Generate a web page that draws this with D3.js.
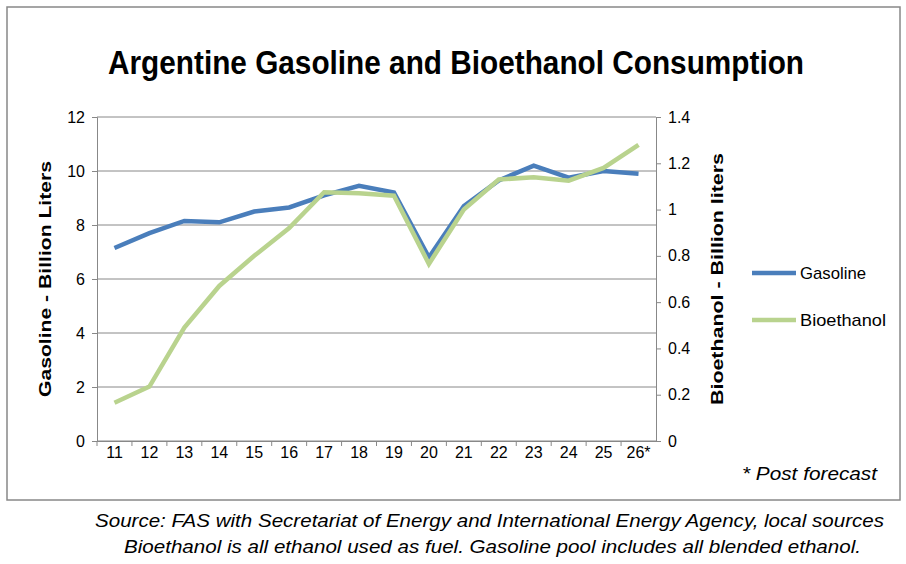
<!DOCTYPE html>
<html><head><meta charset="utf-8">
<script src="https://cdn.jsdelivr.net/npm/d3@7"></script>
<style>body{margin:0;background:#fff}</style></head>
<body><svg id="c" width="906" height="564"></svg>
<script>
const years = ["11","12","13","14","15","16","17","18","19","20","21","22","23","24","25","26*"];
const gasoline = [7.15,7.7,8.15,8.1,8.5,8.65,9.1,9.45,9.2,6.8,8.7,9.65,10.2,9.75,10.0,9.9];
const bioethanol = [0.165,0.235,0.49,0.67,0.8,0.92,1.075,1.07,1.06,0.765,1.0,1.13,1.14,1.125,1.18,1.28];
const leftTicks = [0,2,4,6,8,10,12];
const rightTicks = [0,0.2,0.4,0.6,0.8,1,1.2,1.4];

const svg = d3.select('#c');
const font = "'Liberation Sans', sans-serif";
const m = {left:97, right:656, top:117, bottom:441};

svg.append('rect').attr('x',7).attr('y',7).attr('width',893).attr('height',493)
  .attr('fill','white').attr('stroke','#888').attr('stroke-width',1.5);

svg.append('text').attr('x',108).attr('y',74)
  .attr('font-family',font).attr('font-weight','bold').attr('font-size',34)
  .attr('textLength',696).attr('lengthAdjust','spacingAndGlyphs')
  .text('Argentine Gasoline and Bioethanol Consumption');

const x = d3.scaleBand().domain(years).range([m.left,m.right]);
const yL = d3.scaleLinear().domain([0,12]).range([m.bottom,m.top]);
const yR = d3.scaleLinear().domain([0,1.4]).range([m.bottom,m.top]);

svg.append('g').selectAll('line').data(leftTicks).join('line')
  .attr('x1',m.left).attr('x2',m.right).attr('y1',d=>yL(d)).attr('y2',d=>yL(d))
  .attr('stroke','#888').attr('stroke-width',1);

const axL = svg.append('g').attr('transform',`translate(${m.left},0)`)
  .call(d3.axisLeft(yL).tickValues(leftTicks).tickSize(5).tickFormat(d3.format('d')));
const axR = svg.append('g').attr('transform',`translate(${m.right},0)`)
  .call(d3.axisRight(yR).tickValues(rightTicks).tickSize(5).tickFormat(d=>d3.format('~g')(d)));
const axB = svg.append('g').attr('transform',`translate(0,${m.bottom})`)
  .call(d3.axisBottom(x).tickSize(0));
axB.selectAll('.tick').append('line').attr('x1',-x.step()/2).attr('x2',-x.step()/2).attr('y2',5).attr('stroke','#888');
[axL,axR,axB].forEach(a=>{
  a.selectAll('path,line').attr('stroke','#888');
  a.selectAll('text').attr('font-family',font).attr('font-size',16).attr('fill','#000');
});
axL.selectAll('text').attr('dx',-4);
axR.selectAll('text').attr('dx',4);
axB.selectAll('text').attr('dy',14);

svg.append('text').attr('transform','translate(51,279) rotate(-90)').attr('text-anchor','middle')
  .attr('font-family',font).attr('font-weight','bold').attr('font-size',17)
  .attr('textLength',236).attr('lengthAdjust','spacingAndGlyphs')
  .text('Gasoline - Billion Liters');
svg.append('text').attr('transform','translate(723,279) rotate(-90)').attr('text-anchor','middle')
  .attr('font-family',font).attr('font-weight','bold').attr('font-size',17)
  .attr('textLength',252).attr('lengthAdjust','spacingAndGlyphs')
  .text('Bioethanol - Billion liters');

const cx = d => x(d)+x.bandwidth()/2;
svg.append('path').datum(gasoline)
  .attr('d',d3.line().x((d,i)=>cx(years[i])).y(d=>yL(d)))
  .attr('fill','none').attr('stroke','#4a7ebb').attr('stroke-width',4.5);
svg.append('path').datum(bioethanol)
  .attr('d',d3.line().x((d,i)=>cx(years[i])).y(d=>yR(d)))
  .attr('fill','none').attr('stroke','#b9d38e').attr('stroke-width',4.5);

const leg = [["Gasoline","#4a7ebb",273,66],["Bioethanol","#b9d38e",320,86]];
leg.forEach(([t,c,y,w])=>{
  svg.append('line').attr('x1',752).attr('x2',796).attr('y1',y).attr('y2',y).attr('stroke',c).attr('stroke-width',4.5);
  svg.append('text').attr('x',800).attr('y',y+6).attr('font-family',font).attr('font-size',17)
    .attr('textLength',w).attr('lengthAdjust','spacingAndGlyphs').text(t);
});

svg.append('text').attr('x',742).attr('y',480)
  .attr('font-family',font).attr('font-style','italic').attr('font-size',19)
  .attr('textLength',135).attr('lengthAdjust','spacingAndGlyphs').text('* Post forecast');
svg.append('text').attr('x',95).attr('y',527)
  .attr('font-family',font).attr('font-style','italic').attr('font-size',18)
  .attr('textLength',789).attr('lengthAdjust','spacingAndGlyphs')
  .text('Source: FAS with Secretariat of Energy and International Energy Agency, local sources');
svg.append('text').attr('x',124).attr('y',553)
  .attr('font-family',font).attr('font-style','italic').attr('font-size',18)
  .attr('textLength',737).attr('lengthAdjust','spacingAndGlyphs')
  .text('Bioethanol is all ethanol used as fuel. Gasoline pool includes all blended ethanol.');
</script></body></html>
